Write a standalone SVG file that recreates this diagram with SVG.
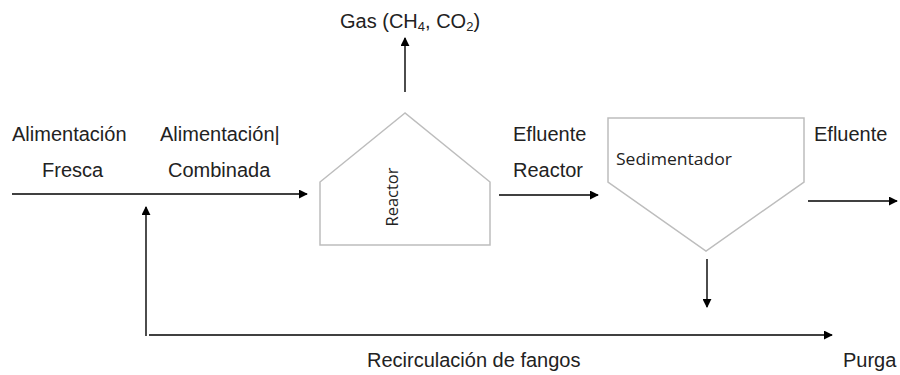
<svg xmlns="http://www.w3.org/2000/svg" width="900" height="375" viewBox="0 0 900 375">
<defs>
<marker id="ah" viewBox="0 0 10 10" refX="9" refY="5" markerWidth="9" markerHeight="9" markerUnits="userSpaceOnUse" orient="auto">
<path d="M0,0 L10,5 L0,10 z" fill="#000"/>
</marker>
<style>
.t{font-family:"Liberation Sans",Arial,sans-serif;font-size:20px;fill:#222}
.s{font-family:"Open Sans","DejaVu Sans",sans-serif;font-size:16px;fill:#222}
.shape{fill:#fff;stroke:#bdbdbd;stroke-width:1.5}
.c{stroke:#000;stroke-width:1.4;fill:none}
</style>
</defs>
<rect width="900" height="375" fill="#fff"/>
<g id="reactor">
<polygon class="shape" points="405,113 320,182 320,245 490,245 490,182"/>
<text class="s" transform="translate(398,197) rotate(-90)" text-anchor="middle" textLength="59" lengthAdjust="spacingAndGlyphs">Reactor</text>
</g>
<g id="sedimentador">
<polygon class="shape" points="608,118 804,118 804,182 706,251 608,182"/>
<text class="s" x="616" y="165" textLength="116" lengthAdjust="spacingAndGlyphs">Sedimentador</text>
</g>
<g id="labels">
<text class="t" x="340" y="28">Gas (CH<tspan font-size="13" dy="3">4</tspan><tspan dy="-3">, CO</tspan><tspan font-size="13" dy="3">2</tspan><tspan dy="-3">)</tspan></text>
<text class="t" x="12" y="141">Alimentación</text>
<text class="t" x="42" y="177">Fresca</text>
<text class="t" x="160" y="141">Alimentación|</text>
<text class="t" x="168" y="177">Combinada</text>
<text class="t" x="513" y="141">Efluente</text>
<text class="t" x="513" y="177">Reactor</text>
<text class="t" x="814" y="141">Efluente</text>
<text class="t" x="367" y="367">Recirculación de fangos</text>
<text class="t" x="843" y="367">Purga</text>
</g>
<g id="connectors">
<line class="c" x1="405" y1="92" x2="405" y2="38" marker-end="url(#ah)"/>
<line class="c" x1="12" y1="194" x2="307" y2="194" marker-end="url(#ah)"/>
<line class="c" x1="499" y1="195" x2="598" y2="195" marker-end="url(#ah)"/>
<line class="c" x1="808" y1="201" x2="897" y2="201" marker-end="url(#ah)"/>
<line class="c" x1="707" y1="259" x2="707" y2="307" marker-end="url(#ah)"/>
<line class="c" x1="146" y1="336" x2="146" y2="207" marker-end="url(#ah)"/>
<line class="c" x1="149" y1="335" x2="832" y2="335" marker-end="url(#ah)"/>
</g>
</svg>
